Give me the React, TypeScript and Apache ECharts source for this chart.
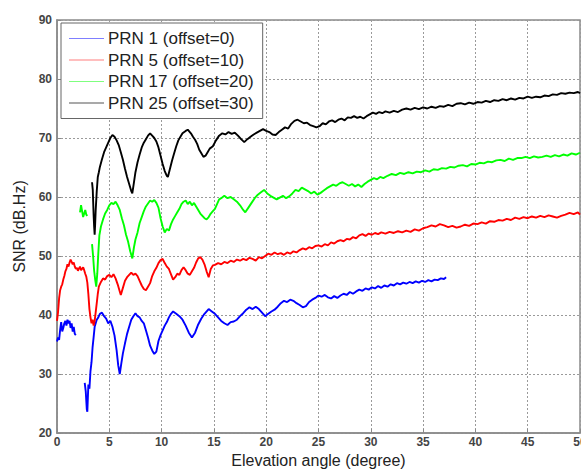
import React, { useEffect, useRef } from "react";
import * as echarts from "echarts";

const seriesNames = ["PRN 1 (offset=0)", "PRN 5 (offset=10)", "PRN 17 (offset=20)", "PRN 25 (offset=30)"];
const xTicks = [0, 5, 10, 15, 20, 25, 30, 35, 40, 45, 50];
const yTicks = [20, 30, 40, 50, 60, 70, 80, 90];

const prn1: (number | null)[][] = [
  [0,35.5],[0.1,36.2],[0.2,35.8],[0.3,37.5],[0.4,38.8],[0.5,37.2],[0.6,37.8],[0.7,38.6],[0.8,39.0],[0.9,38.2],[1.0,39.2],[1.1,38.6],[1.2,39.0],[1.3,37.8],[1.4,38.6],[1.5,37.2],[1.6,38.0],[1.7,36.8],[1.8,36.6],
  [1.9,null],
  [2.65,28.5],[2.75,27.0],[2.85,24.0],[2.9,23.6],[2.95,26.0],[3.0,28.2],[3.1,27.5],[3.2,30.5],[3.3,32.0],[3.4,34.5],[3.5,36.2],[3.6,38.0],[3.7,38.6],[3.8,39.2],[3.95,39.6],[4.1,40.2],[4.3,40.4],[4.5,39.8],[4.7,39.4],[4.9,38.6],[5.1,39.0],[5.3,38.0],[5.5,36.5],[5.7,34.0],[5.85,31.5],[6.0,30.0],[6.15,31.8],[6.3,33.5],[6.5,35.2],[6.7,36.8],[6.9,38.0],[7.1,39.2],[7.3,39.8],[7.5,40.3],[7.7,39.8],[7.9,39.6],[8.1,39.0],[8.3,38.6],[8.5,37.4],[8.7,36.2],[8.9,34.8],[9.1,34.0],[9.3,33.4],[9.5,33.8],[9.7,35.6],[9.9,36.6],[10.1,37.4],[10.3,38.2],[10.5,38.8],[10.7,39.6],[10.9,40.2],[11.1,40.6],[11.4,40.2],[11.7,39.8],[12.0,39.2],[12.3,38.2],[12.6,37.0],[12.9,36.2],[13.2,37.0],[13.5,38.4],[13.8,39.4],[14.1,40.2],[14.5,41.0],[14.8,40.6],[15.1,40.2],[15.4,39.6],[15.7,39.0],[16.0,38.6],[16.3,38.3],[16.6,38.8],[16.9,38.9],[17.2,39.2],[17.5,39.8],[17.8,40.3],[18.1,40.9],[18.4,41.3],[18.7,41.0],[19.0,41.4],[19.3,41.0],[19.6,40.4],[19.9,39.8],[20.2,40.2],[20.5,40.6],[20.8,40.9],[21.1,41.4],[21.4,42.0],[21.7,42.4],[22.0,42.2],[22.3,42.6],[22.6,42.4],[22.9,42.0],[23.2,41.7],[23.5,41.3],[23.8,41.5],[24.1,42.2],[24.4,42.6],[24.7,42.9],[25.0,43.3],[25.3,43.1],[25.6,43.4],[25.9,43.0],[26.2,42.8],[26.5,43.2],[26.8,42.9],[27.1,43.3],[27.4,43.6],[27.7,43.4],[28.0,43.9],[28.3,43.6],[28.6,44.0],[28.9,44.3],[29.2,44.1],[29.5,44.5],[29.8,44.3],[30.1,44.7],[30.4,44.5],[30.7,44.9],[31.0,44.6],[31.3,45.0],[31.6,44.8],[31.9,45.2],[32.2,45.0],[32.5,45.4],[32.8,45.2],[33.1,45.5],[33.4,45.3],[33.7,45.6],[34.0,45.4],[34.3,45.7],[34.6,45.5],[34.9,45.8],[35.2,45.6],[35.5,45.9],[35.8,45.7],[36.1,46.0],[36.4,45.9],[36.7,46.2],[37.0,46.1],[37.2,46.4]
];

const prn5: (number | null)[][] = [
  [0,39.0],[0.1,40.5],[0.2,42.8],[0.3,44.2],[0.4,44.8],[0.5,45.2],[0.6,46.0],[0.7,46.6],[0.8,47.4],[0.9,47.8],[1.0,48.6],[1.1,48.2],[1.2,48.9],[1.3,49.4],[1.4,49.0],[1.5,48.6],[1.6,48.9],[1.7,48.2],[1.8,47.8],[1.9,48.0],[2.0,47.5],[2.1,47.9],[2.2,48.2],[2.3,47.6],[2.4,47.8],[2.5,48.1],[2.6,47.6],[2.7,47.0],[2.8,46.5],[2.9,45.5],[3.0,43.5],[3.1,41.0],[3.2,39.6],[3.3,38.6],[3.4,39.2],[3.5,38.2],[3.6,39.0],[3.7,40.5],[3.8,42.0],[3.9,43.6],[4.0,44.8],[4.2,45.6],[4.4,46.2],[4.6,46.0],[4.8,46.6],[5.0,46.8],[5.2,46.4],[5.4,46.9],[5.6,46.2],[5.8,45.2],[6.0,44.0],[6.1,43.4],[6.3,44.6],[6.5,45.8],[6.7,46.4],[6.9,46.8],[7.1,47.2],[7.3,46.8],[7.5,47.0],[7.7,46.6],[7.9,45.8],[8.1,45.0],[8.3,44.4],[8.5,44.2],[8.7,44.8],[8.9,45.4],[9.1,46.6],[9.3,47.4],[9.5,48.0],[9.7,48.8],[9.9,49.3],[10.1,49.5],[10.3,48.8],[10.5,48.2],[10.7,47.8],[10.9,46.9],[11.1,46.0],[11.3,46.4],[11.5,47.0],[11.7,46.8],[11.9,47.6],[12.1,48.1],[12.3,47.6],[12.5,47.0],[12.7,46.8],[12.9,47.4],[13.1,48.0],[13.3,48.9],[13.5,49.6],[13.7,49.8],[13.9,49.4],[14.1,48.6],[14.3,47.4],[14.5,46.4],[14.7,47.8],[14.9,48.4],[15.1,48.5],[15.4,48.8],[15.7,48.6],[16.0,49.0],[16.3,48.8],[16.6,49.2],[16.9,49.0],[17.2,49.4],[17.5,49.2],[17.8,49.5],[18.1,49.3],[18.4,49.7],[18.7,49.5],[19.0,49.2],[19.3,49.8],[19.6,49.6],[19.9,50.0],[20.2,50.4],[20.5,50.2],[20.8,50.6],[21.1,50.3],[21.4,50.5],[21.7,50.2],[22.0,50.6],[22.3,50.4],[22.6,50.8],[22.9,50.6],[23.2,51.0],[23.5,51.3],[23.8,51.1],[24.1,51.5],[24.4,51.3],[24.7,51.7],[25.0,51.8],[25.3,51.6],[25.6,52.0],[25.9,51.8],[26.2,52.3],[26.5,52.1],[26.8,52.5],[27.1,52.7],[27.4,52.5],[27.7,52.9],[28.0,52.8],[28.3,53.2],[28.6,53.0],[28.9,53.5],[29.2,53.7],[29.5,53.4],[29.8,53.8],[30.1,53.6],[30.4,53.9],[30.7,53.7],[31.0,54.0],[31.4,53.8],[31.8,54.1],[32.2,53.9],[32.6,54.2],[33.0,54.0],[33.4,54.3],[33.8,54.1],[34.2,54.5],[34.6,54.3],[35.0,54.7],[35.4,54.9],[35.8,55.2],[36.2,55.0],[36.6,55.4],[37.0,55.2],[37.4,54.9],[37.8,55.1],[38.2,54.8],[38.6,55.0],[39.0,55.3],[39.4,55.1],[39.8,55.5],[40.2,55.4],[40.6,55.7],[41.0,55.5],[41.4,55.9],[41.8,55.8],[42.2,56.1],[42.6,56.0],[43.0,56.3],[43.4,56.1],[43.8,56.5],[44.2,56.3],[44.6,56.6],[45.0,56.4],[45.4,56.7],[45.8,56.5],[46.2,56.8],[46.6,56.6],[47.0,56.9],[47.4,56.7],[47.8,56.5],[48.2,56.8],[48.6,57.0],[49.0,57.3],[49.4,57.1],[49.8,57.4],[50.0,57.0]
];

const prn17: (number | null)[][] = [
  [2.2,57.4],[2.3,58.6],[2.4,57.6],[2.5,56.6],[2.6,57.2],[2.7,57.8],[2.8,57.0],[2.9,56.8],
  [3.0,null],
  [3.35,52.0],[3.45,50.0],[3.55,47.5],[3.65,46.0],[3.75,44.8],[3.85,47.0],[3.95,50.5],[4.05,53.5],[4.2,55.0],[4.4,56.2],[4.6,57.2],[4.8,57.8],[5.0,58.6],[5.2,59.0],[5.4,58.8],[5.6,59.2],[5.8,58.6],[6.0,57.8],[6.2,56.4],[6.4,55.2],[6.6,53.6],[6.8,52.4],[7.0,50.8],[7.2,49.6],[7.35,51.4],[7.5,52.8],[7.7,54.0],[7.9,55.6],[8.1,56.6],[8.3,57.6],[8.5,58.4],[8.7,58.9],[8.9,59.4],[9.1,59.2],[9.3,59.5],[9.5,59.0],[9.7,58.2],[9.9,56.4],[10.1,55.0],[10.3,54.0],[10.5,54.6],[10.7,54.3],[10.9,55.4],[11.1,56.2],[11.3,56.8],[11.5,57.4],[11.7,58.0],[11.9,58.8],[12.1,59.2],[12.3,59.4],[12.5,58.8],[12.7,59.2],[12.9,58.6],[13.1,59.0],[13.3,58.4],[13.5,57.8],[13.7,57.2],[13.9,56.8],[14.1,56.4],[14.3,56.2],[14.5,56.6],[14.7,57.2],[14.9,57.6],[15.1,58.0],[15.3,58.8],[15.5,59.6],[15.7,59.8],[16.0,60.2],[16.3,59.8],[16.6,60.0],[16.9,59.6],[17.2,59.2],[17.5,58.6],[17.8,57.8],[18.0,57.4],[18.3,58.2],[18.6,59.0],[18.9,59.8],[19.2,60.4],[19.5,60.8],[19.8,61.2],[20.1,60.6],[20.4,60.2],[20.7,59.9],[21.0,59.6],[21.3,59.9],[21.6,60.2],[21.9,59.8],[22.2,60.1],[22.5,60.6],[22.8,61.2],[23.1,61.0],[23.4,61.6],[23.7,61.3],[24.0,61.0],[24.3,60.6],[24.6,60.9],[24.9,60.4],[25.2,60.7],[25.5,61.1],[25.8,61.5],[26.1,61.8],[26.4,62.1],[26.7,61.9],[27.0,62.3],[27.3,62.5],[27.6,62.2],[27.9,61.9],[28.2,62.2],[28.5,61.8],[28.8,62.1],[29.1,61.7],[29.4,62.2],[29.7,62.6],[30.0,62.9],[30.3,63.2],[30.6,63.0],[30.9,63.4],[31.2,63.2],[31.6,63.6],[32.0,63.9],[32.4,63.7],[32.8,64.1],[33.2,63.9],[33.6,64.2],[34.0,64.0],[34.4,64.3],[34.8,64.2],[35.2,64.5],[35.6,64.3],[36.0,64.7],[36.4,64.6],[36.8,64.9],[37.2,64.8],[37.6,65.1],[38.0,65.0],[38.4,65.3],[38.8,65.4],[39.2,65.2],[39.6,65.6],[40.0,65.5],[40.4,65.8],[40.8,65.7],[41.2,66.0],[41.6,65.9],[42.0,66.2],[42.4,66.3],[42.8,66.1],[43.2,66.5],[43.6,66.3],[44.0,66.6],[44.4,66.6],[44.8,66.8],[45.2,66.6],[45.6,66.9],[46.0,66.7],[46.4,66.8],[46.8,67.0],[47.2,66.8],[47.6,67.1],[48.0,66.9],[48.4,67.2],[48.8,67.0],[49.2,67.4],[49.6,67.2],[50.0,67.5]
];

const prn25: (number | null)[][] = [
  [3.35,62.5],[3.42,61.2],[3.5,57.0],[3.55,55.0],[3.6,53.6],[3.65,55.5],[3.7,57.8],[3.8,61.0],[3.9,63.4],[4.0,64.2],[4.1,65.1],[4.3,66.4],[4.5,67.6],[4.7,68.4],[4.9,69.2],[5.1,70.0],[5.3,70.5],[5.5,70.2],[5.7,69.6],[5.9,68.8],[6.1,67.6],[6.3,66.3],[6.5,64.8],[6.7,63.4],[6.9,62.2],[7.1,61.0],[7.2,60.6],[7.35,62.4],[7.5,64.2],[7.7,65.9],[7.9,67.2],[8.1,68.4],[8.3,69.2],[8.5,69.8],[8.7,70.4],[8.9,70.8],[9.1,70.4],[9.3,70.0],[9.5,69.4],[9.7,68.4],[9.9,67.0],[10.1,65.6],[10.3,64.4],[10.5,63.6],[10.6,63.4],[10.8,64.8],[11.0,66.2],[11.2,67.4],[11.4,68.6],[11.6,69.6],[11.8,70.2],[12.0,70.8],[12.3,71.2],[12.5,71.4],[12.8,70.8],[13.0,70.2],[13.2,69.7],[13.4,69.0],[13.6,68.0],[13.8,67.4],[14.0,66.8],[14.2,67.0],[14.4,67.6],[14.6,68.2],[14.9,68.6],[15.2,69.6],[15.5,70.4],[15.8,70.8],[16.1,70.6],[16.4,71.0],[16.7,70.7],[17.0,70.9],[17.3,70.4],[17.6,69.8],[17.9,69.3],[18.2,69.8],[18.5,70.2],[18.8,70.6],[19.1,70.9],[19.4,71.2],[19.7,71.5],[20.0,71.2],[20.3,71.0],[20.6,70.6],[20.9,70.5],[21.2,71.0],[21.5,71.4],[21.8,71.8],[22.1,71.6],[22.4,72.4],[22.7,72.9],[23.0,73.1],[23.3,72.8],[23.6,72.5],[23.9,72.6],[24.2,72.2],[24.5,72.0],[24.8,71.8],[25.1,72.0],[25.4,72.5],[25.7,72.3],[26.0,72.8],[26.3,73.0],[26.6,72.7],[26.9,73.1],[27.2,73.3],[27.5,73.0],[27.8,73.5],[28.1,73.4],[28.4,73.7],[28.7,73.4],[29.0,73.6],[29.3,73.3],[29.6,73.7],[29.9,74.0],[30.2,74.3],[30.5,74.1],[30.8,74.4],[31.1,74.2],[31.4,74.5],[31.8,74.3],[32.2,74.6],[32.6,74.4],[33.0,74.8],[33.4,75.0],[33.8,74.8],[34.2,75.1],[34.6,74.9],[35.0,75.2],[35.4,75.0],[35.8,75.3],[36.2,75.1],[36.6,75.4],[37.0,75.3],[37.4,75.6],[37.8,75.4],[38.2,75.8],[38.6,75.9],[39.0,75.7],[39.4,76.0],[39.8,75.8],[40.2,76.1],[40.6,76.0],[41.0,76.3],[41.4,76.1],[41.8,76.4],[42.2,76.3],[42.6,76.6],[43.0,76.4],[43.4,76.7],[43.8,76.5],[44.2,76.8],[44.6,76.7],[45.0,77.0],[45.4,76.8],[45.8,77.0],[46.2,76.9],[46.6,77.2],[47.0,77.1],[47.4,77.4],[47.8,77.3],[48.2,77.6],[48.6,77.5],[49.0,77.7],[49.4,77.6],[49.8,77.8],[50.0,77.6]
];

const seriesData = [prn1, prn5, prn17, prn25];
const seriesColors = ["#0000ff", "#ff0000", "#00ff00", "#000000"];
const legendColors = ["#7f7fff", "#ff7f7f", "#7fff7f", "#555555"];

const FONT = "Liberation Sans, Arial, Helvetica, sans-serif";

export default function App() {
  const ref = useRef<HTMLDivElement>(null);
  useEffect(() => {
    if (!ref.current) return;
    const chart = echarts.init(ref.current, undefined, { renderer: "svg" });
    const axisGray = "#8a8a8a";
    chart.setOption({
      animation: false,
      backgroundColor: "#ffffff",
      textStyle: { fontFamily: FONT },
      grid: {
        left: 57,
        top: 20,
        right: 1,
        bottom: 38,
        show: true,
        containLabel: false,
        outerBoundsMode: "none",
        borderColor: axisGray,
        borderWidth: 1.5,
        backgroundColor: "transparent",
      },
      legend: {
        orient: "vertical",
        left: 61,
        top: 23,
        padding: [7, 9, 7, 8],
        itemGap: 4.5,
        itemWidth: 35,
        itemHeight: 16,
        backgroundColor: "#ffffff",
        borderColor: "#666666",
        borderWidth: 1,
        borderRadius: 0,
        textStyle: { fontSize: 17, color: "#222222", fontFamily: FONT, lineHeight: 16, padding: [0, 0, 0, -1] },
        data: seriesNames.map((n, i) => ({
          name: n,
          icon: "path://M0,0 L35,0 L35,1.2 L0,1.2 Z",
          itemStyle: { color: legendColors[i] },
        })),
      },
      xAxis: {
        type: "value",
        min: xTicks[0],
        max: xTicks[xTicks.length - 1],
        interval: 5,
        name: "Elevation angle (degree)",
        nameLocation: "middle",
        nameGap: 19,
        nameTextStyle: { fontSize: 16, color: "#222222", fontFamily: FONT, verticalAlign: "top" },
        axisLine: { show: true, lineStyle: { color: axisGray, width: 1.5 } },
        axisTick: { show: true, inside: true, length: 4, lineStyle: { color: axisGray } },
        axisLabel: { fontSize: 12, color: "#444444", fontWeight: "bold", margin: 3, showMinLabel: true, showMaxLabel: true, fontFamily: FONT },
        splitLine: { show: true, lineStyle: { color: "#9a9a9a", type: [2, 2], width: 1 } },
      },
      yAxis: {
        type: "value",
        min: yTicks[0],
        max: yTicks[yTicks.length - 1],
        interval: 10,
        name: "SNR (dB.Hz)",
        nameLocation: "middle",
        nameGap: 29,
        nameTextStyle: { fontSize: 16, color: "#222222", fontFamily: FONT },
        axisLine: { show: true, lineStyle: { color: axisGray, width: 1.5 } },
        axisTick: { show: true, inside: true, length: 4, lineStyle: { color: axisGray } },
        axisLabel: { fontSize: 12, color: "#444444", fontWeight: "bold", margin: 5, fontFamily: FONT },
        splitLine: { show: true, lineStyle: { color: "#9a9a9a", type: [2, 2], width: 1 } },
      },
      series: seriesData.map((d, i) => ({
        type: "line",
        name: seriesNames[i],
        data: d,
        symbol: "none",
        connectNulls: false,
        clip: true,
        lineStyle: { color: seriesColors[i], width: 1.9 },
        itemStyle: { color: seriesColors[i] },
      })),
    });
    return () => chart.dispose();
  }, []);
  return (
    <div
      ref={ref}
      style={{ position: "fixed", left: 0, top: 0, width: 581, height: 471, background: "#fff" }}
    />
  );
}
